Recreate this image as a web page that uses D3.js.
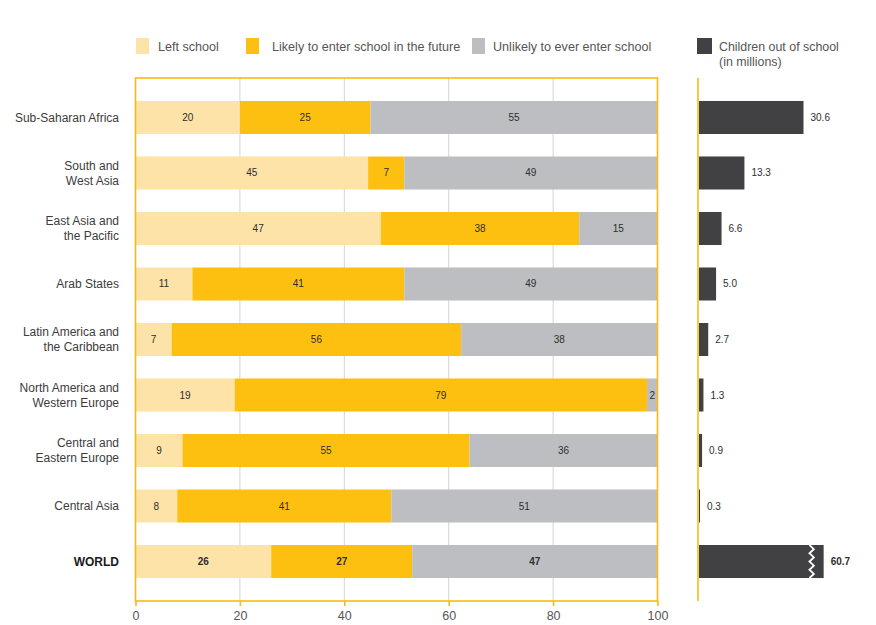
<!DOCTYPE html>
<html>
<head>
<meta charset="utf-8">
<script src="https://cdn.jsdelivr.net/npm/d3@7"></script>
<style>
  html, body { margin: 0; padding: 0; background: #ffffff; }
  svg { display: block; font-family: "Liberation Sans", Arial, sans-serif; }
</style>
</head>
<body>
<svg id="chart" width="876" height="625"></svg>
<script>
// Regions (each label may span two lines)
const regions = [
  ["Sub-Saharan Africa"],
  ["South and", "West Asia"],
  ["East Asia and", "the Pacific"],
  ["Arab States"],
  ["Latin America and", "the Caribbean"],
  ["North America and", "Western Europe"],
  ["Central and", "Eastern Europe"],
  ["Central Asia"],
  ["WORLD"]
];
// Shares of out-of-school children (%)
const leftSchool = [20, 45, 47, 11, 7, 19, 9, 8, 26];
const likelyToEnter = [25, 7, 38, 41, 56, 79, 55, 41, 27];
const unlikelyToEnter = [55, 49, 15, 49, 38, 2, 36, 51, 47];
// Children out of school (millions)
const outOfSchool = [30.6, 13.3, 6.6, 5.0, 2.7, 1.3, 0.9, 0.3, 60.7];
const xTickValues = [0, 20, 40, 60, 80, 100];
const seriesKeys = ["left", "likely", "unlikely"];
const seriesNames = ["Left school", "Likely to enter school in the future", "Unlikely to ever enter school"];

const colors = { left: "#fde3a7", likely: "#fec010", unlikely: "#bdbec1", dark: "#414042", frame: "#fdb913", grid: "#d3d4d6" };
const textColor = "#3c3c3c";

const svg = d3.select("#chart");

const rows = regions.map((r, i) => ({
  name: r.join(" "), lines: r, world: r[0] === "WORLD",
  left: leftSchool[i], likely: likelyToEnter[i], unlikely: unlikelyToEnter[i], total: outOfSchool[i]
}));

const plot = { left: 135.5, right: 657.5, top: 78, bottom: 601 };

// Bands: 9 rows, step ~55.5px, bar height ~33px
const y = d3.scaleBand()
  .domain(rows.map(d => d.name))
  .range([plot.top, plot.bottom])
  .paddingInner(0.405)
  .paddingOuter(0.414);

const x = d3.scaleLinear().domain([0, 1]).range([plot.left, plot.right]);

// Gridlines
svg.append("g")
  .selectAll("line")
  .data(xTickValues.filter(v => v > 0 && v < 100))
  .join("line")
  .attr("x1", d => x(d / 100)).attr("x2", d => x(d / 100))
  .attr("y1", plot.top).attr("y2", plot.bottom)
  .attr("stroke", colors.grid).attr("stroke-width", 1);

// Stacked shares, normalised to 100%
const stack = d3.stack().keys(seriesKeys).offset(d3.stackOffsetExpand);
const stacked = stack(rows);

const layers = svg.append("g")
  .selectAll("g")
  .data(stacked)
  .join("g")
  .attr("fill", d => colors[d.key]);

layers.selectAll("rect")
  .data(d => d.map(s => ({ s, key: d.key })))
  .join("rect")
  .attr("x", d => x(d.s[0]))
  .attr("width", d => x(d.s[1]) - x(d.s[0]))
  .attr("y", d => y(d.s.data.name))
  .attr("height", y.bandwidth());

// Segment value labels
layers.selectAll("text")
  .data(d => d.map(s => ({ s, key: d.key })))
  .join("text")
  .attr("x", d => (x(d.s[0]) + x(d.s[1])) / 2)
  .attr("y", d => y(d.s.data.name) + y.bandwidth() / 2)
  .attr("dy", "0.35em")
  .attr("text-anchor", "middle")
  .attr("font-size", 10)
  .attr("font-weight", d => d.s.data.world ? "bold" : "normal")
  .attr("fill", "#2e2e2e")
  .text(d => d.s.data[d.key]);

// Frame and bottom axis
svg.append("rect")
  .attr("x", plot.left).attr("y", plot.top)
  .attr("width", plot.right - plot.left).attr("height", plot.bottom - plot.top)
  .attr("fill", "none").attr("stroke", colors.frame).attr("stroke-width", 1.6);

const axis = svg.append("g")
  .attr("transform", `translate(0,${plot.bottom})`)
  .call(d3.axisBottom(x)
    .tickValues(xTickValues.map(v => v / 100))
    .tickFormat(v => Math.round(v * 100))
    .tickSize(5)
    .tickPadding(5));
axis.select(".domain").remove();
axis.selectAll(".tick line").attr("stroke", colors.frame).attr("stroke-width", 1.6);
axis.selectAll(".tick text")
  .attr("font-size", 12.5)
  .attr("font-family", "Liberation Sans, Arial, sans-serif")
  .attr("fill", "#555");

// Region labels
const labels = svg.append("g")
  .selectAll("text")
  .data(rows)
  .join("text")
  .attr("text-anchor", "end")
  .attr("font-size", 12)
  .attr("font-weight", d => d.world ? "bold" : "normal")
  .attr("fill", d => d.world ? "#1a1a1a" : textColor)
  .attr("y", d => y(d.name) + y.bandwidth() / 2);
labels.selectAll("tspan")
  .data(d => d.lines.map((t, i) => ({ t, i, n: d.lines.length })))
  .join("tspan")
  .attr("x", 119)
  .attr("dy", d => d.i === 0 ? `${0.35 - (d.n - 1) * 0.62}em` : "1.24em")
  .text(d => d.t);

// Right panel: children out of school (millions)
const x2 = d3.scaleLinear().domain([0, 30.6]).range([699, 803.5]);
const displayCap = 36.5; // world bar is truncated beyond this value

svg.append("line")
  .attr("x1", 698).attr("x2", 698)
  .attr("y1", plot.top).attr("y2", plot.bottom)
  .attr("stroke", colors.frame).attr("stroke-width", 1.6);

const rightBars = svg.append("g");
rightBars.selectAll("rect")
  .data(rows)
  .join("rect")
  .attr("x", x2(0))
  .attr("y", d => y(d.name))
  .attr("width", d => x2(Math.min(d.total, displayCap)) - x2(0))
  .attr("height", y.bandwidth())
  .attr("fill", colors.dark);

// Zigzag break on the truncated bar
rows.filter(d => d.total > displayCap).forEach(d => {
  const bx = x2(displayCap) - 12;
  const y0 = y(d.name), h = y.bandwidth();
  const steps = 8;
  const pts = d3.range(steps + 1).map(i => [bx + (i % 2 ? 2.2 : -2.2), y0 + h * i / steps]);
  rightBars.append("path")
    .attr("d", d3.line()(pts))
    .attr("fill", "none")
    .attr("stroke", "#ffffff")
    .attr("stroke-width", 1.8);
});

rightBars.selectAll("text")
  .data(rows)
  .join("text")
  .attr("x", d => x2(Math.min(d.total, displayCap)) + 7)
  .attr("y", d => y(d.name) + y.bandwidth() / 2)
  .attr("dy", "0.35em")
  .attr("font-size", 10)
  .attr("font-weight", d => d.world ? "bold" : "normal")
  .attr("fill", "#2e2e2e")
  .text(d => d3.format(".1f")(d.total));

// Legend
const legendItems = [
  { key: "left", label: seriesNames[0], x: 136, tx: 158 },
  { key: "likely", label: seriesNames[1], x: 246, tx: 272 },
  { key: "unlikely", label: seriesNames[2], x: 472, tx: 493 }
];
const legend = svg.append("g");
legend.selectAll("rect")
  .data(legendItems)
  .join("rect")
  .attr("x", d => d.x).attr("y", 38)
  .attr("width", 13).attr("height", 16)
  .attr("fill", d => colors[d.key]);
legend.selectAll("text")
  .data(legendItems)
  .join("text")
  .attr("x", d => d.tx).attr("y", 51)
  .attr("font-size", 12.6)
  .attr("fill", "#555")
  .text(d => d.label);

legend.append("rect")
  .attr("x", 697).attr("y", 38)
  .attr("width", 15).attr("height", 16)
  .attr("fill", colors.dark);
const darkLabel = legend.append("text")
  .attr("font-size", 12.4)
  .attr("fill", "#555");
darkLabel.append("tspan").attr("x", 719).attr("y", 51).text("Children out of school");
darkLabel.append("tspan").attr("x", 719).attr("y", 66).text("(in millions)");
</script>
</body>
</html>
